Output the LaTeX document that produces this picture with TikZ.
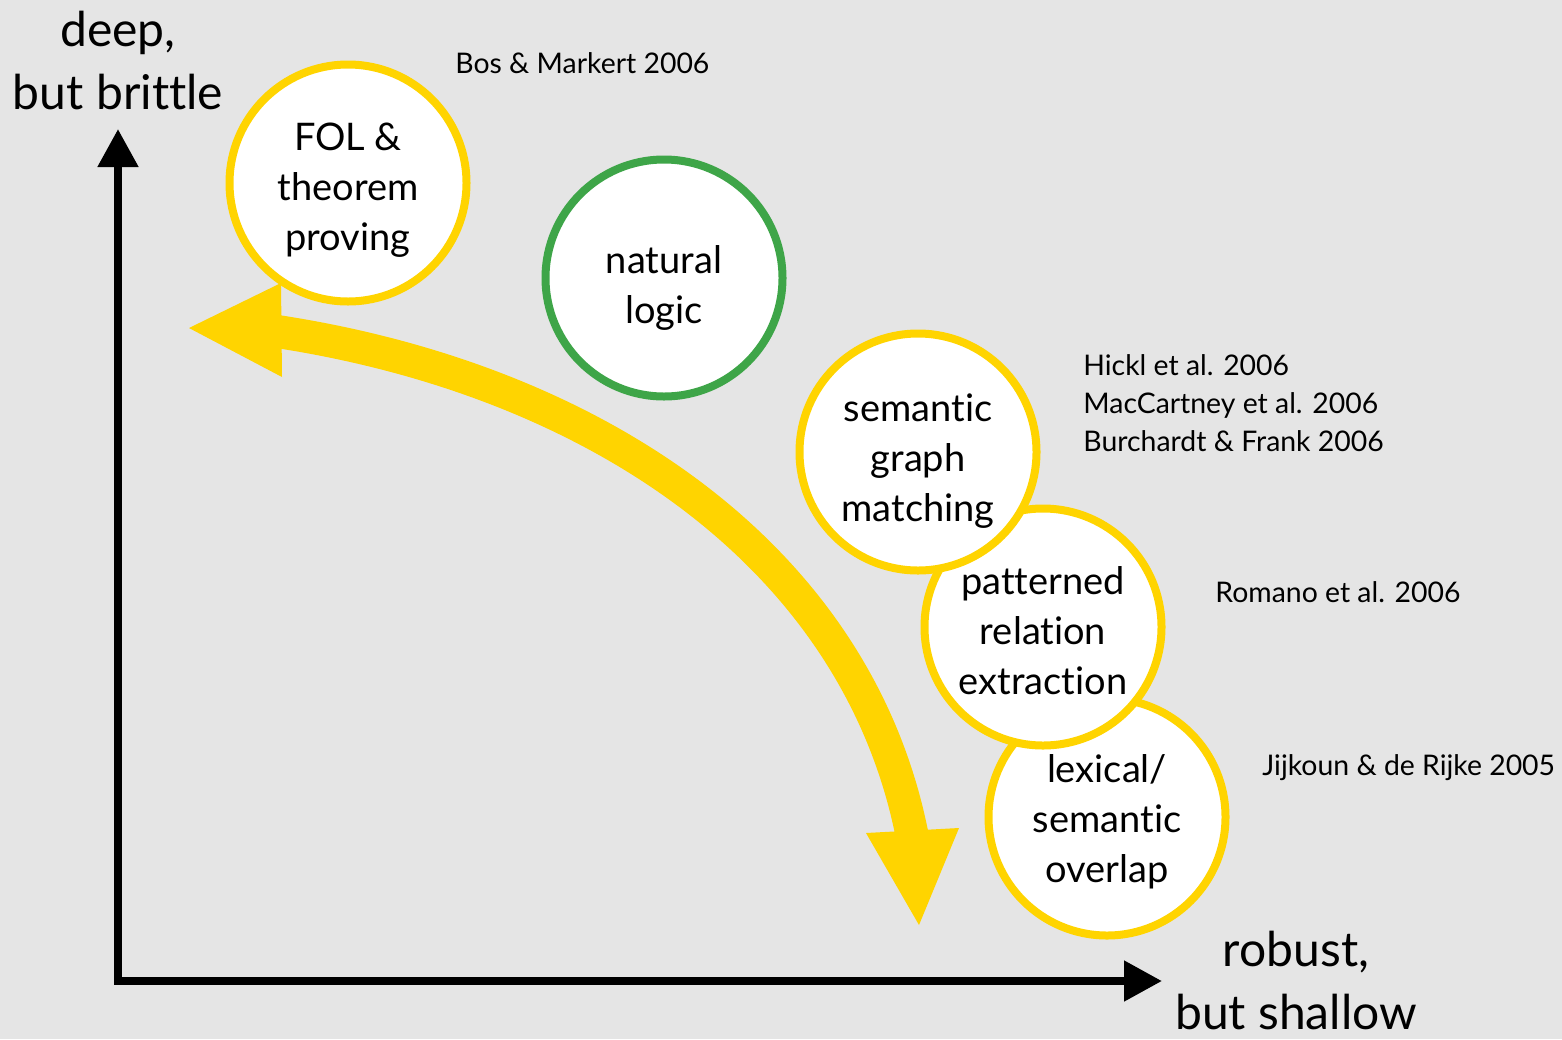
\documentclass[tikz,border=0pt]{standalone}
\usepackage{fontspec}
\setmainfont{Lato}[Ligatures=NoCommon]
\usetikzlibrary{arrows.meta,calc}

\definecolor{slide}{RGB}{229,229,229}
\definecolor{amber}{RGB}{255,212,0}
\definecolor{leaf}{RGB}{62,165,72}

\tikzset{
  bubble/.style={circle, draw=#1, line width=4pt, fill=white,
                 minimum size=118.5pt, inner sep=0pt},
  bubtext/.style={align=center, inner sep=0pt,
                  font=\fontsize{19}{25}\selectfont},
  cite/.style={inner sep=0pt, font=\fontsize{14.2}{19}\selectfont},
  axislabel/.style={align=center, inner sep=0pt,
                    font=\fontsize{24}{31.5}\selectfont},
  axisline/.style={line width=4pt, line join=miter,
                   {Triangle[length=19pt,width=19.5pt]}-{Triangle[length=19pt,width=19.5pt]}},
  sweep/.style={amber, line width=16.5pt},
}

\begin{document}
\begin{tikzpicture}[x=0.5pt,y=-0.5pt]
  % canvas
  \useasboundingbox (0,0) rectangle (1562,1039);
  \fill[slide] (0,0) rectangle (1562,1039);

  % axes
  \coordinate (O) at (118,981);
  \coordinate (ytip) at (118,129);
  \coordinate (xtip) at (1162,981);
  \draw[axisline] (ytip) -- (O) -- (xtip);

  % the sweeping two-headed arrow
  \coordinate (aS) at (274,331);
  \coordinate (aE) at (913,840);
  \draw[sweep] (aS) .. controls (600,380) and (860,560) .. (aE);
  \coordinate (lTip) at (189,328);
  \coordinate (lUp) at (281,283);
  \coordinate (lLo) at (282,377);
  \fill[amber] (lTip) -- (lUp) -- (lLo) -- cycle;
  \coordinate (bTip) at (919,925);
  \coordinate (bL) at (866,833);
  \coordinate (bR) at (959,828);
  \fill[amber] (bTip) -- (bL) -- (bR) -- cycle;

  % approaches
  \node[bubble=amber] (fol) at (348,183) {};
  \node[bubtext] (fol-t) at ($(fol.center)+(0,7)$) {FOL \&\\theorem\\proving};

  \node[bubble=leaf] (nat) at (664,278) {};
  \node[bubtext] (nat-t) at ($(nat.center)+(0,10)$) {natural\\logic};

  \node[bubble=amber] (lex) at (1107,817) {};
  \node[bubtext] (lex-t) at ($(lex.center)+(0,5)$) {lexical/\\semantic\\overlap};

  \node[bubble=amber] (pat) at (1043,627) {};
  \node[bubtext] (pat-t) at ($(pat.center)+(0,4)$) {patterned\\relation\\extraction};

  \node[bubble=amber] (sem) at (918,452) {};
  \node[bubtext] (sem-t) at ($(sem.center)+(0,9)$) {semantic\\graph\\matching};

  % axis labels
  \node[axislabel] (ylab) at (118,61) {deep,\\but brittle};
  \node[axislabel] (xlab) at (1296,980) {robust,\\but shallow};

  % references
  \node[cite, anchor=base west] (c-bos) at (455,73) {Bos \& Markert 2006};
  \node[cite, anchor=north west, align=left] (c-sem) at (1083,354)
    {Hickl et al. 2006\\MacCartney et al. 2006\\Burchardt \& Frank 2006};
  \node[cite, anchor=base west] (c-rom) at (1215,602) {Romano et al. 2006};
  \node[cite, anchor=base west] (c-jij) at (1262,775) {Jijkoun \& de Rijke 2005};
\end{tikzpicture}
\end{document}
